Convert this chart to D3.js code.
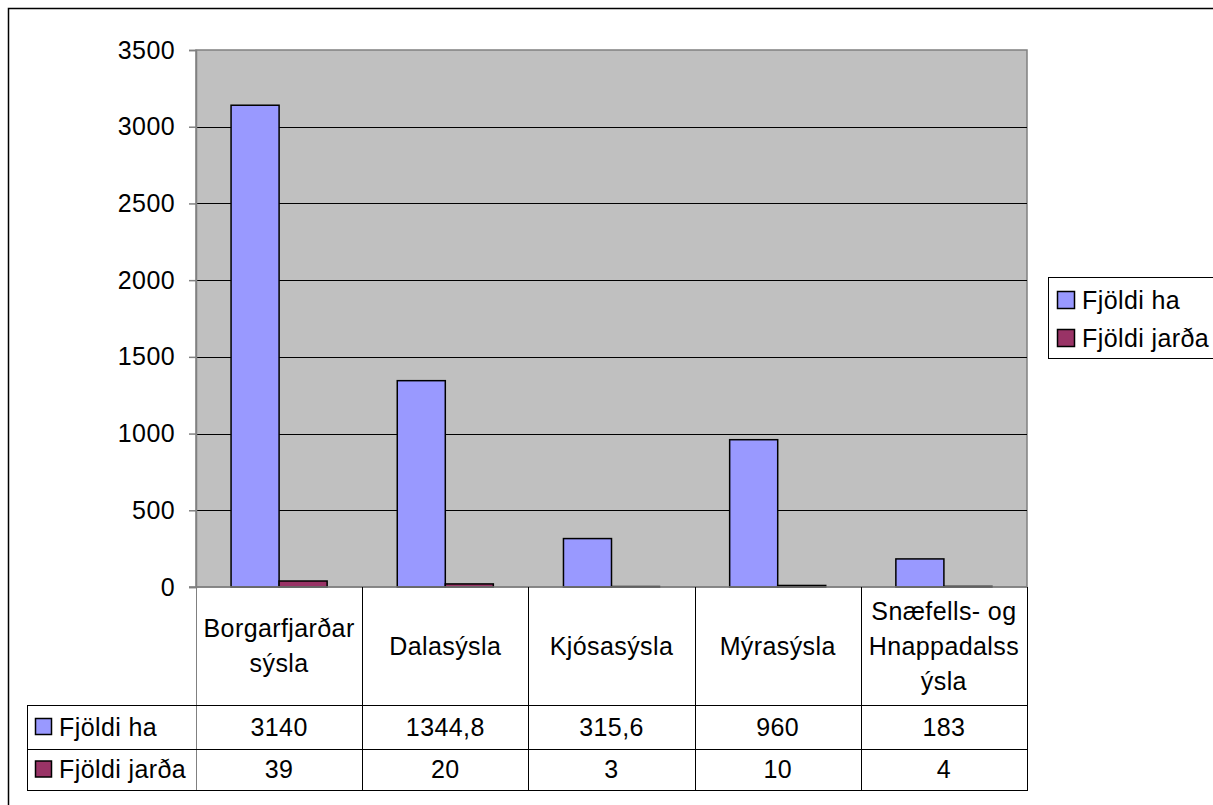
<!DOCTYPE html>
<html>
<head>
<meta charset="utf-8">
<script src="https://cdn.jsdelivr.net/npm/d3@7"></script>
<style>
  body { margin: 0; background: #fff; }
  svg text { font-family: "Liberation Sans", Arial, sans-serif; font-size: 25px; fill: #000; letter-spacing: 0.4px; }
</style>
</head>
<body>
<div id="chart"></div>
<script>
// data
let categories = ["Borgarfjarðarsýsla", "Dalasýsla", "Kjósasýsla", "Mýrasýsla", "Snæfells- og Hnappadalssýsla"];
let categoryLines = [["Borgarfjarðar", "sýsla"], ["Dalasýsla"], ["Kjósasýsla"], ["Mýrasýsla"], ["Snæfells- og", "Hnappadalss", "ýsla"]];
let seriesNames = ["Fjöldi ha", "Fjöldi jarða"];
let fjoldiHa = [3140, 1344.8, 315.6, 960, 183];
let fjoldiJarda = [39, 20, 3, 10, 4];
let yTicks = [0, 500, 1000, 1500, 2000, 2500, 3000, 3500];
let colors = ["#9999ff", "#993366"];

let W = 1213, H = 805;
let plot = { left: 196, right: 1027, top: 50, bottom: 587 };
let rows = { header: 705, r1: 749, r2: 790, left: 27 };

let svg = d3.select("#chart").append("svg")
    .attr("width", W)
    .attr("height", H);

// outer chart border
svg.append("rect")
    .attr("x", 8.5).attr("y", 8.5)
    .attr("width", W + 20).attr("height", H + 20)
    .attr("fill", "#fff")
    .attr("stroke", "#000")
    .attr("stroke-width", 1.5);

let x = d3.scaleBand()
    .domain(categories)
    .range([plot.left, plot.right])
    .padding(0);
let x1 = d3.scaleBand()
    .domain(seriesNames)
    .range([0, x.bandwidth()])
    .paddingInner(0)
    .paddingOuter(0.73);
let y = d3.scaleLinear()
    .domain([0, 3500])
    .range([plot.bottom, plot.top]);

// plot background
svg.append("rect")
    .attr("x", plot.left).attr("y", plot.top)
    .attr("width", plot.right - plot.left)
    .attr("height", plot.bottom - plot.top)
    .attr("fill", "#c0c0c0")
    .attr("stroke", "#808080")
    .attr("stroke-width", 1.5);

// gridlines
svg.append("g")
    .selectAll("line")
    .data(yTicks.filter(d => d > 0 && d < 3500))
    .enter().append("line")
    .attr("x1", plot.left).attr("x2", plot.right)
    .attr("y1", d => Math.round(y(d)) + 0.5)
    .attr("y2", d => Math.round(y(d)) + 0.5)
    .attr("stroke", "#000");

// y axis
let yAxis = svg.append("g")
    .attr("transform", "translate(" + plot.left + ",0)")
    .call(d3.axisLeft(y).tickValues(yTicks).tickFormat(d3.format("d")).tickSize(7).tickPadding(14));
yAxis.select(".domain").attr("stroke", "#808080").attr("stroke-width", 1.5);
yAxis.selectAll(".tick line").attr("stroke", "#808080").attr("stroke-width", 1.5);
yAxis.selectAll(".tick text")
    .style("font-family", "'Liberation Sans', Arial, sans-serif")
    .style("font-size", "25px")
    .attr("fill", "#000");

// bars
let series = [fjoldiHa, fjoldiJarda];
series.forEach(function(vals, si) {
    svg.append("g")
        .selectAll("rect")
        .data(vals)
        .enter().append("rect")
        .attr("x", (d, i) => x(categories[i]) + x1(seriesNames[si]))
        .attr("width", x1.bandwidth())
        .attr("y", d => y(d))
        .attr("height", d => y(0) - y(d))
        .attr("fill", colors[si])
        .attr("stroke", "#000")
        .attr("stroke-width", 1.5);
});

// bottom axis line
svg.append("line")
    .attr("x1", plot.left - 7).attr("x2", plot.right)
    .attr("y1", plot.bottom).attr("y2", plot.bottom)
    .attr("stroke", "#808080").attr("stroke-width", 1.5);

// data table
let table = svg.append("g");
let bounds = categories.map(c => x(c)).concat([plot.right]);
table.selectAll(".vline")
    .data(bounds)
    .enter().append("line")
    .attr("x1", d => Math.round(d) + 0.5).attr("x2", d => Math.round(d) + 0.5)
    .attr("y1", plot.bottom).attr("y2", rows.r2)
    .attr("stroke", (d, i) => i === 0 ? "#808080" : "#000");
table.append("line")
    .attr("x1", rows.left + 0.5).attr("x2", rows.left + 0.5)
    .attr("y1", rows.header).attr("y2", rows.r2)
    .attr("stroke", "#000");
[rows.header, rows.r1, rows.r2].forEach(function(yy) {
    table.append("line")
        .attr("x1", rows.left).attr("x2", plot.right + 1)
        .attr("y1", yy + 0.5).attr("y2", yy + 0.5)
        .attr("stroke", "#000");
});

// category headers
let lineH = 35;
let headMid = (plot.bottom + rows.header) / 2;
categoryLines.forEach(function(lines, i) {
    let cx = x(categories[i]) + x.bandwidth() / 2;
    let t = table.append("text")
        .attr("text-anchor", "middle");
    lines.forEach(function(l, j) {
        t.append("tspan")
            .attr("x", cx)
            .attr("y", headMid + (j - (lines.length - 1) / 2) * lineH)
            .attr("dy", "0.35em")
            .text(l);
    });
});

// value rows
let fmt = v => String(v).replace(".", ",");
let rowY = [(rows.header + rows.r1) / 2, (rows.r1 + rows.r2) / 2];
series.forEach(function(vals, si) {
    table.append("g")
        .selectAll("text")
        .data(vals)
        .enter().append("text")
        .attr("x", (d, i) => x(categories[i]) + x.bandwidth() / 2)
        .attr("y", rowY[si])
        .attr("dy", "0.35em")
        .attr("text-anchor", "middle")
        .text(d => fmt(d));
    // row key
    table.append("rect")
        .attr("x", rows.left + 8.5).attr("y", rowY[si] - 8.5)
        .attr("width", 16).attr("height", 16)
        .attr("fill", colors[si]).attr("stroke", "#000").attr("stroke-width", 1.5);
    table.append("text")
        .attr("x", rows.left + 32)
        .attr("y", rowY[si])
        .attr("dy", "0.35em")
        .text(seriesNames[si]);
});

// legend
let legend = svg.append("g").attr("transform", "translate(1048,277)");
legend.append("rect")
    .attr("x", 0.5).attr("y", 0.5)
    .attr("width", 200).attr("height", 81)
    .attr("fill", "#fff").attr("stroke", "#000");
seriesNames.forEach(function(name, i) {
    let ly = 23 + i * 38;
    legend.append("rect")
        .attr("x", 9.5).attr("y", ly - 8.5)
        .attr("width", 17).attr("height", 17)
        .attr("fill", colors[i]).attr("stroke", "#000").attr("stroke-width", 1.5);
    legend.append("text")
        .attr("x", 34)
        .attr("y", ly)
        .attr("dy", "0.35em")
        .text(name);
});
</script>
</body>
</html>
